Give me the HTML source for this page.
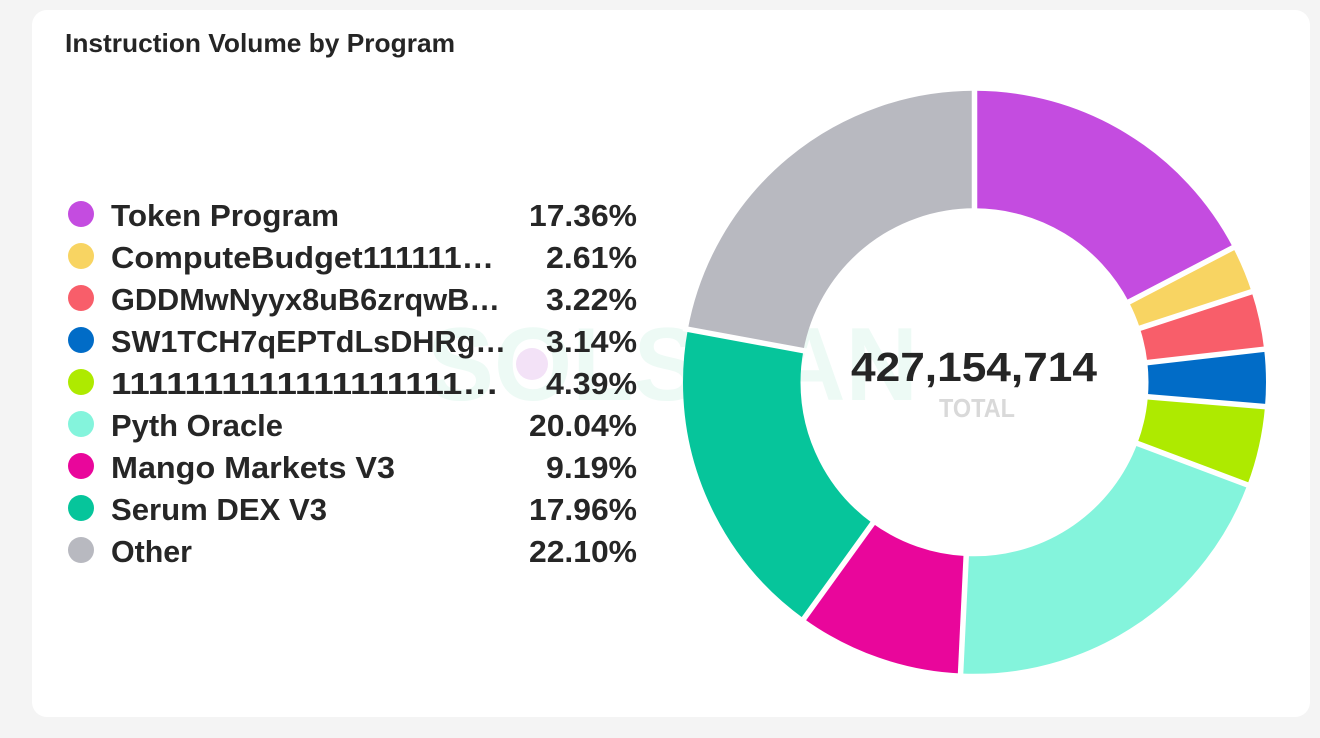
<!DOCTYPE html>
<html>
<head>
<meta charset="utf-8">
<style>
  html, body { margin:0; padding:0; width:1320px; height:738px; background:#f4f4f4; overflow:hidden; }
  svg { display:block; }
  text { font-family:"Liberation Sans", Arial, sans-serif; font-weight:bold; }
</style>
</head>
<body>
<svg width="1320" height="738" viewBox="0 0 1320 738" xmlns="http://www.w3.org/2000/svg">
  <rect x="0" y="0" width="1320" height="738" fill="#f4f4f4"/>
  <rect x="32" y="10" width="1278" height="707" rx="15" ry="15" fill="#ffffff"/>

  <!-- watermark -->
  <text x="427" y="400" font-size="104" fill="#edfaf5" textLength="491" lengthAdjust="spacingAndGlyphs">SOLSCAN</text>
  <circle cx="532" cy="364" r="16" fill="#f3e2f7"/>

  <!-- title -->
  <text x="65" y="52" font-size="26" fill="#252525" textLength="390" lengthAdjust="spacingAndGlyphs">Instruction Volume by Program</text>

  <!-- legend -->
  <g font-size="31" fill="#262626">
    <circle cx="81" cy="214" r="13" fill="#c44ce0"/>
    <text x="111" y="226" textLength="228" lengthAdjust="spacingAndGlyphs">Token Program</text>
    <text x="637" y="226" text-anchor="end" textLength="108" lengthAdjust="spacingAndGlyphs">17.36%</text>

    <circle cx="81" cy="256" r="13" fill="#f8d462"/>
    <text x="111" y="268" textLength="383" lengthAdjust="spacingAndGlyphs">ComputeBudget111111…</text>
    <text x="637" y="268" text-anchor="end" textLength="91" lengthAdjust="spacingAndGlyphs">2.61%</text>

    <circle cx="81" cy="298" r="13" fill="#f85e6a"/>
    <text x="111" y="310" textLength="389" lengthAdjust="spacingAndGlyphs">GDDMwNyyx8uB6zrqwB…</text>
    <text x="637" y="310" text-anchor="end" textLength="91" lengthAdjust="spacingAndGlyphs">3.22%</text>

    <circle cx="81" cy="340" r="13" fill="#016cc7"/>
    <text x="111" y="352" textLength="395" lengthAdjust="spacingAndGlyphs">SW1TCH7qEPTdLsDHRg…</text>
    <text x="637" y="352" text-anchor="end" textLength="91" lengthAdjust="spacingAndGlyphs">3.14%</text>

    <circle cx="81" cy="382" r="13" fill="#aeea00"/>
    <text x="111" y="394" textLength="388" lengthAdjust="spacingAndGlyphs">1111111111111111111…</text>
    <text x="637" y="394" text-anchor="end" textLength="91" lengthAdjust="spacingAndGlyphs">4.39%</text>

    <circle cx="81" cy="424" r="13" fill="#84f4dc"/>
    <text x="111" y="436" textLength="172" lengthAdjust="spacingAndGlyphs">Pyth Oracle</text>
    <text x="637" y="436" text-anchor="end" textLength="108" lengthAdjust="spacingAndGlyphs">20.04%</text>

    <circle cx="81" cy="466" r="13" fill="#e9069b"/>
    <text x="111" y="478" textLength="284" lengthAdjust="spacingAndGlyphs">Mango Markets V3</text>
    <text x="637" y="478" text-anchor="end" textLength="91" lengthAdjust="spacingAndGlyphs">9.19%</text>

    <circle cx="81" cy="508" r="13" fill="#06c59b"/>
    <text x="111" y="520" textLength="216" lengthAdjust="spacingAndGlyphs">Serum DEX V3</text>
    <text x="637" y="520" text-anchor="end" textLength="108" lengthAdjust="spacingAndGlyphs">17.96%</text>

    <circle cx="81" cy="550" r="13" fill="#b8b9c0"/>
    <text x="111" y="562" textLength="81" lengthAdjust="spacingAndGlyphs">Other</text>
    <text x="637" y="562" text-anchor="end" textLength="108" lengthAdjust="spacingAndGlyphs">22.10%</text>
  </g>

  <!-- donut -->
  <g transform="rotate(-90 974.5 382.3)" fill="none" stroke-width="117.5">
    <circle cx="974.5" cy="382.3" r="232.75" pathLength="100" stroke="#c44ce0" stroke-dasharray="17.36 82.64" stroke-dashoffset="0"/>
    <circle cx="974.5" cy="382.3" r="232.75" pathLength="100" stroke="#f8d462" stroke-dasharray="2.61 97.39" stroke-dashoffset="-17.36"/>
    <circle cx="974.5" cy="382.3" r="232.75" pathLength="100" stroke="#f85e6a" stroke-dasharray="3.22 96.78" stroke-dashoffset="-19.97"/>
    <circle cx="974.5" cy="382.3" r="232.75" pathLength="100" stroke="#016cc7" stroke-dasharray="3.14 96.86" stroke-dashoffset="-23.19"/>
    <circle cx="974.5" cy="382.3" r="232.75" pathLength="100" stroke="#aeea00" stroke-dasharray="4.39 95.61" stroke-dashoffset="-26.33"/>
    <circle cx="974.5" cy="382.3" r="232.75" pathLength="100" stroke="#84f4dc" stroke-dasharray="20.04 79.96" stroke-dashoffset="-30.72"/>
    <circle cx="974.5" cy="382.3" r="232.75" pathLength="100" stroke="#e9069b" stroke-dasharray="9.19 90.81" stroke-dashoffset="-50.76"/>
    <circle cx="974.5" cy="382.3" r="232.75" pathLength="100" stroke="#06c59b" stroke-dasharray="17.96 82.04" stroke-dashoffset="-59.95"/>
    <circle cx="974.5" cy="382.3" r="232.75" pathLength="100" stroke="#b8b9c0" stroke-dasharray="22.10 77.90" stroke-dashoffset="-77.91"/>
  </g>
  <!-- slice separators -->
  <g stroke="#ffffff" stroke-width="5.5">
    <line x1="974.5" y1="212" x2="974.5" y2="86" transform="rotate(0 974.5 382.3)"/>
    <line x1="974.5" y1="212" x2="974.5" y2="86" transform="rotate(62.496 974.5 382.3)"/>
    <line x1="974.5" y1="212" x2="974.5" y2="86" transform="rotate(71.892 974.5 382.3)"/>
    <line x1="974.5" y1="212" x2="974.5" y2="86" transform="rotate(83.484 974.5 382.3)"/>
    <line x1="974.5" y1="212" x2="974.5" y2="86" transform="rotate(94.788 974.5 382.3)"/>
    <line x1="974.5" y1="212" x2="974.5" y2="86" transform="rotate(110.592 974.5 382.3)"/>
    <line x1="974.5" y1="212" x2="974.5" y2="86" transform="rotate(182.736 974.5 382.3)"/>
    <line x1="974.5" y1="212" x2="974.5" y2="86" transform="rotate(215.82 974.5 382.3)"/>
    <line x1="974.5" y1="212" x2="974.5" y2="86" transform="rotate(280.476 974.5 382.3)"/>
  </g>

  <!-- center labels -->
  <text x="974" y="381" font-size="41" fill="#252525" text-anchor="middle" textLength="246" lengthAdjust="spacingAndGlyphs">427,154,714</text>
  <text x="977" y="417" font-size="26" fill="#d9d9d9" text-anchor="middle" textLength="76" lengthAdjust="spacingAndGlyphs">TOTAL</text>
</svg>
</body>
</html>
